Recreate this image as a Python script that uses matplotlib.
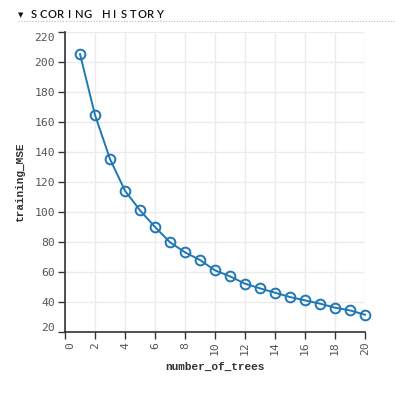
import matplotlib
matplotlib.use("Agg")
import matplotlib.pyplot as plt
import matplotlib.transforms as mtransforms
from matplotlib.lines import Line2D

number_of_trees = list(range(1, 21))
training_mse = [205.3, 164.7, 135.3, 114.2, 101.1, 90.0, 79.8, 73.1, 68.0, 61.1,
                57.1, 52.2, 49.1, 46.2, 43.3, 41.1, 38.9, 36.2, 34.4, 31.5]
x_ticks = list(range(0, 21, 2))
y_ticks = list(range(20, 221, 20))
title = "SCORING HISTORY"

W, H = 395, 394
fig = plt.figure(figsize=(W / 100, H / 100), dpi=100)
ax = fig.add_axes([65 / W, (H - 332) / H, 300 / W, 300 / H])

color = "#1f77b4"
ax.plot(number_of_trees, training_mse, color=color, lw=1.4, marker="o",
        markersize=7, markerfacecolor="none", markeredgecolor=color,
        markeredgewidth=1.4, clip_on=False, zorder=3)

ax.set_xlim(0, 20)
ax.set_ylim(20, 220)
ax.set_xticks(x_ticks)
ax.set_yticks(y_ticks)
ax.grid(True, color="#ebebeb", lw=1)
ax.set_axisbelow(True)
for s in ["top", "right"]:
    ax.spines[s].set_visible(False)
for s in ["left", "bottom"]:
    ax.spines[s].set_color("#333333")
    ax.spines[s].set_linewidth(1.2)

tick_font = dict(family="DejaVu Sans Mono", size=8.2)
ax.tick_params(axis="both", direction="out", length=5, width=1,
               color="#333333", labelcolor="#555555", pad=2)
ax.set_xticklabels([str(v) for v in x_ticks], rotation=90, fontdict=tick_font)
ax.set_yticklabels([str(v) for v in y_ticks], fontdict=tick_font)
for lbl in ax.get_xticklabels():
    lbl.set_verticalalignment("top")

def shift(lbl, dx, dy):
    lbl.set_transform(lbl.get_transform() +
                      mtransforms.ScaledTranslation(dx / 100, dy / 100, fig.dpi_scale_trans))

ylbls = ax.get_yticklabels()
shift(ylbls[0], 0, 5)
shift(ylbls[-1], 0, -5)
xlbls = ax.get_xticklabels()
shift(xlbls[0], 5, 0)

ax.set_xlabel("number_of_trees", family="Liberation Mono", weight="bold",
              size=8, color="#333333", va="center")
ax.set_ylabel("training_MSE", family="Liberation Mono", weight="bold",
              size=8, color="#333333", va="center")
ax.xaxis.set_label_coords(0.5, -(367 - 332) / 300)
ax.yaxis.set_label_coords(-(65 - 20) / 300, 0.5)

# Title with letter spacing
fig.text(21 / W, 1 - 15 / H, "\u25bc", size=5, color="#111111",
         ha="center", va="center", family="DejaVu Sans")
x0 = 34
for i, ch in enumerate(title):
    fig.text((x0 + i * 9.0) / W, 1 - 15 / H, ch, size=8, color="#111111",
             ha="center", va="center", family="Lato", weight="semibold")
fig.add_artist(Line2D([18 / W, 1], [1 - 21 / H, 1 - 21 / H],
                      transform=fig.transFigure, color="#bbbbbb", lw=0.8,
                      linestyle=(0, (1, 1.5))))

fig.savefig("out.png", dpi=100)
